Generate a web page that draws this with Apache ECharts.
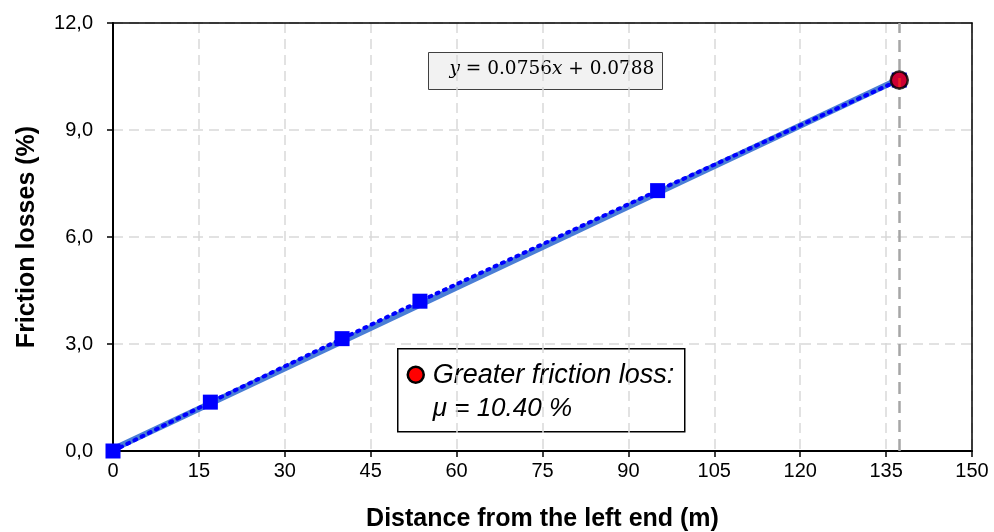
<!DOCTYPE html>
<html>
<head>
<meta charset="utf-8">
<script src="https://cdn.jsdelivr.net/npm/echarts@6/dist/echarts.min.js"></script>
<style>
  html, body { margin: 0; padding: 0; background: #fff; }
  #chart { width: 994px; height: 532px; }
</style>
</head>
<body>
<div id="chart"></div>
<script>
// measured points
var distance = [0, 17, 40, 53.6, 95.1, 137.3];
var friction = [0, 1.37, 3.15, 4.2, 7.3, 10.4];
// linear fit endpoints as drawn
var trendX = [0, 137.3];
var trendY = [0.05, 10.43];
// greatest loss point
var maxPoint = [137.3, 10.4];

var font = 'Liberation Sans, Arial, sans-serif';

var chart = echarts.init(document.getElementById('chart'));

chart.setOption({
    animation: false,
    grid: { left: 113, top: 23, width: 859, height: 428, outerBoundsMode: 'none', containLabel: false },
    xAxis: [{
        type: 'value', min: 0, max: 150, interval: 15,
        name: 'Distance from the left end (m)',
        nameLocation: 'middle', nameGap: 56,
        nameTextStyle: { fontFamily: font, fontSize: 25, fontWeight: 'bold', color: '#000' },
        axisLine: { lineStyle: { color: '#000', width: 2 } },
        axisTick: { show: true, length: 6, lineStyle: { color: '#000', width: 1.5 } },
        axisLabel: { fontFamily: font, fontSize: 20, color: '#000', margin: 10 },
        splitLine: { show: true, lineStyle: { color: '#d9d9d9', type: [10, 6], width: 1.5 } }
    }, {
        type: 'value', min: 0, max: 150, position: 'top',
        axisLine: { show: true, onZero: false, lineStyle: { color: '#000', width: 1.5 } },
        axisTick: { show: false }, axisLabel: { show: false }, splitLine: { show: false }
    }],
    yAxis: [{
        type: 'value', min: 0, max: 12, interval: 3,
        name: 'Friction losses (%)',
        nameLocation: 'middle', nameGap: 73,
        nameTextStyle: { fontFamily: font, fontSize: 25, fontWeight: 'bold', color: '#000' },
        axisLine: { show: true, lineStyle: { color: '#000', width: 2 } },
        axisTick: { show: true, length: 6, lineStyle: { color: '#000', width: 1.5 } },
        axisLabel: {
            fontFamily: font, fontSize: 20, color: '#000', margin: 20,
            formatter: function (v) { return v.toFixed(1).replace('.', ','); }
        },
        splitLine: { show: true, lineStyle: { color: '#d9d9d9', type: [10, 6], width: 1.5 } }
    }, {
        type: 'value', min: 0, max: 12, position: 'right',
        axisLine: { show: true, onZero: false, lineStyle: { color: '#000', width: 1.5 } },
        axisTick: { show: false }, axisLabel: { show: false }, splitLine: { show: false }
    }],
    series: [
        {
            type: 'line',
            data: [],
            z: 1,
            markLine: {
                silent: true, symbol: 'none', label: { show: false },
                lineStyle: { color: '#a6a6a6', type: [12, 7], width: 2.5 },
                data: [{ xAxis: maxPoint[0] }]
            }
        },
        {
            type: 'line',
            data: trendX.map(function (x, i) { return [x, trendY[i]]; }),
            symbol: 'none',
            lineStyle: { color: '#4a7ed6', width: 6 },
            silent: true, z: 2
        },
        {
            type: 'line',
            data: distance.map(function (x, i) { return [x, friction[i]]; }),
            symbol: 'rect', symbolSize: 15,
            itemStyle: { color: '#0000ff' },
            lineStyle: { color: '#0000ff', width: 4, type: [2, 6], cap: 'round' },
            z: 3
        },
        {
            type: 'scatter',
            data: [maxPoint],
            symbol: 'circle', symbolSize: 17,
            itemStyle: { color: '#ff0000', borderColor: '#000', borderWidth: 2.5 },
            z: 10
        }
    ],
    graphic: [
        {
            type: 'group', left: 428, top: 52,
            children: [
                { type: 'rect', shape: { x: 0, y: 0, width: 234, height: 37 },
                  style: { fill: '#f2f2f2', stroke: '#404040', lineWidth: 1 } },
                { type: 'text', x: 21, y: 7,
                  style: {
                      text: '{i|y} = 0.0756{i|x} + 0.0788',
                      font: '18.5px "DejaVu Serif", serif', fill: '#000',
                      rich: { i: { fontStyle: 'italic', fontFamily: 'DejaVu Serif', fontSize: 18.5 } }
                  } }
            ]
        },
        {
            type: 'group', left: 397, top: 348,
            children: [
                { type: 'rect', shape: { x: 0, y: 0, width: 287, height: 83 },
                  style: { fill: '#fff', stroke: '#000', lineWidth: 1.5 } },
                { type: 'circle', shape: { cx: 18, cy: 26, r: 8 },
                  style: { fill: '#ff0000', stroke: '#000', lineWidth: 2.5 } },
                { type: 'text', x: 35, y: 13,
                  style: { text: 'Greater friction loss:', font: 'italic 27px ' + font, fill: '#000' } },
                { type: 'text', x: 35, y: 47,
                  style: { text: 'μ = 10.40 %', font: 'italic 26px ' + font, fill: '#000' } }
            ]
        }
    ]
});
</script>
</body>
</html>
